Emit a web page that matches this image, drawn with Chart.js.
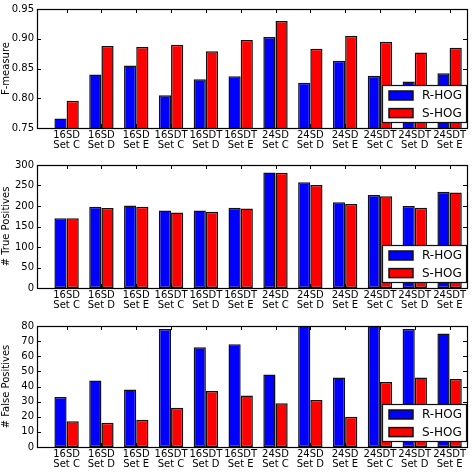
<!DOCTYPE html>
<html>
<head>
<meta charset="utf-8">
<script src="https://cdn.jsdelivr.net/npm/chart.js@4"></script>
<style>
  html, body { margin: 0; padding: 0; background: #fff; }
  .panel { position: absolute; left: 0; width: 473px; }
</style>
</head>
<body>
<div class="panel" style="top:0;height:155px"><canvas id="fmeasure"></canvas></div>
<div class="panel" style="top:155px;height:158px"><canvas id="truepos"></canvas></div>
<div class="panel" style="top:313px;height:160px"><canvas id="falsepos"></canvas></div>
<script>
// tick labels (two lines each)
const detectors = ['16SD', '16SD', '16SD', '16SDT', '16SDT', '16SDT', '24SD', '24SD', '24SD', '24SDT', '24SDT', '24SDT'];
const testSets = ['Set C', 'Set D', 'Set E', 'Set C', 'Set D', 'Set E', 'Set C', 'Set D', 'Set E', 'Set C', 'Set D', 'Set E'];
const seriesNames = ['R-HOG', 'S-HOG'];

// values
const fMeasureR = [0.766, 0.840, 0.855, 0.805, 0.832, 0.837, 0.903, 0.826, 0.863, 0.838, 0.828, 0.842];
const fMeasureS = [0.796, 0.888, 0.886, 0.890, 0.879, 0.898, 0.930, 0.883, 0.905, 0.895, 0.877, 0.885];
const truePosR = [170, 198, 201, 189, 189, 196, 282, 258, 209, 227, 200, 235];
const truePosS = [170, 195, 198, 184, 186, 194, 281, 251, 205, 224, 196, 233];
const falsePosR = [33, 44, 38, 78, 66, 68, 48, 85, 46, 90, 78, 75];
const falsePosS = [17, 16, 18, 26, 37, 34, 29, 31, 20, 43, 46, 45];

const FONT = 'DejaVu Sans';

// frame, inward ticks and boxed legend like matplotlib
const mplDecor = {
    id: 'mplDecor',
    afterDraw(chart) {
        const ctx = chart.ctx, a = chart.chartArea;
        const xs = chart.scales.x, ys = chart.scales.y;
        ctx.save();
        ctx.strokeStyle = '#000';
        ctx.lineWidth = 1;
        ctx.beginPath();
        ys.ticks.forEach(t => {
            const y = Math.round(ys.getPixelForValue(t.value)) + 0.5;
            ctx.moveTo(a.left, y); ctx.lineTo(a.left + 4, y);
            ctx.moveTo(a.right, y); ctx.lineTo(a.right - 4, y);
        });
        xs.ticks.forEach(t => {
            const x = Math.round(xs.getPixelForValue(t.value)) + 0.5;
            ctx.moveTo(x, a.top); ctx.lineTo(x, a.top + 4);
            ctx.moveTo(x, a.bottom); ctx.lineTo(x, a.bottom - 4);
        });
        ctx.stroke();
        ctx.lineWidth = 1.2;
        ctx.strokeRect(Math.round(a.left) + 0.5, Math.round(a.top) + 0.5,
            Math.round(a.right - a.left), Math.round(a.bottom - a.top));

        // legend
        const w = 84, h = 37;
        const bx = a.right - 1 - w, by = a.bottom - 6 - h;
        ctx.fillStyle = '#fff';
        ctx.fillRect(bx, by, w, h);
        ctx.lineWidth = 1.2;
        ctx.strokeStyle = '#111';
        ctx.strokeRect(bx + 0.5, by + 0.5, w, h);
        ctx.font = '12px "' + FONT + '"';
        ctx.textBaseline = 'middle';
        chart.data.datasets.forEach((ds, i) => {
            const cy = by + 10.5 + i * 17.6;
            ctx.fillStyle = ds.backgroundColor;
            ctx.fillRect(bx + 7, cy - 4.5, 24, 9);
            ctx.strokeStyle = '#111';
            ctx.lineWidth = 1.5;
            ctx.strokeRect(bx + 7, cy - 4.5, 24, 9);
            ctx.fillStyle = '#000';
            ctx.fillText(ds.label, bx + 40, cy + 0.5);
        });
        ctx.restore();
    }
};

function makeChart(id, title, rVals, sVals, yMin, yMax, yStep, decimals, padTop, xHeight) {
    const colors = ['#0000ff', '#ff0000'];
    return new Chart(document.getElementById(id), {
        type: 'bar',
        data: {
            datasets: [rVals, sVals].map((vals, k) => ({
                label: seriesNames[k],
                data: vals.map((v, i) => ({ x: i, y: v })),
                backgroundColor: colors[k],
                borderColor: '#111',
                borderWidth: 1.5,
                borderSkipped: false,
                categoryPercentage: 0.7,
                barPercentage: 1.0
            }))
        },
        options: {
            responsive: true,
            maintainAspectRatio: false,
            animation: false,
            layout: { padding: { top: padTop, right: 6, left: 0, bottom: 0 } },
            plugins: { legend: { display: false }, tooltip: { enabled: false } },
            scales: {
                x: {
                    type: 'linear',
                    offset: false,
                    min: -0.85,
                    max: 11.5,
                    grid: { display: false, drawTicks: false },
                    border: { display: false },
                    afterBuildTicks: s => { s.ticks = detectors.map((d, i) => ({ value: i })); },
                    afterFit: s => { s.height = xHeight; },
                    ticks: {
                        autoSkip: false,
                        maxRotation: 0,
                        minRotation: 0,
                        padding: 2,
                        color: '#000',
                        font: { family: FONT, size: 10, lineHeight: 1.05 },
                        callback: (v, i) => [detectors[i], testSets[i]]
                    }
                },
                y: {
                    min: yMin,
                    max: yMax,
                    grid: { display: false, drawTicks: false },
                    border: { display: false },
                    afterFit: s => { s.width = 37; },
                    ticks: {
                        stepSize: yStep,
                        padding: 3,
                        color: '#000',
                        font: { family: FONT, size: 10 },
                        callback: v => Number(v).toFixed(decimals)
                    },
                    title: {
                        display: true,
                        text: title,
                        color: '#000',
                        padding: { top: 0, bottom: 0 },
                        font: { family: FONT, size: 10 }
                    }
                }
            }
        },
        plugins: [mplDecor]
    });
}

makeChart('fmeasure', 'F-measure', fMeasureR, fMeasureS, 0.75, 0.95, 0.05, 2, 4, 27);
makeChart('truepos', '# True Positives', truePosR, truePosS, 0, 300, 50, 0, 10, 25);
makeChart('falsepos', '# False Positives', falsePosR, falsePosS, 0, 80, 10, 0, 13, 26);
</script>
</body>
</html>
